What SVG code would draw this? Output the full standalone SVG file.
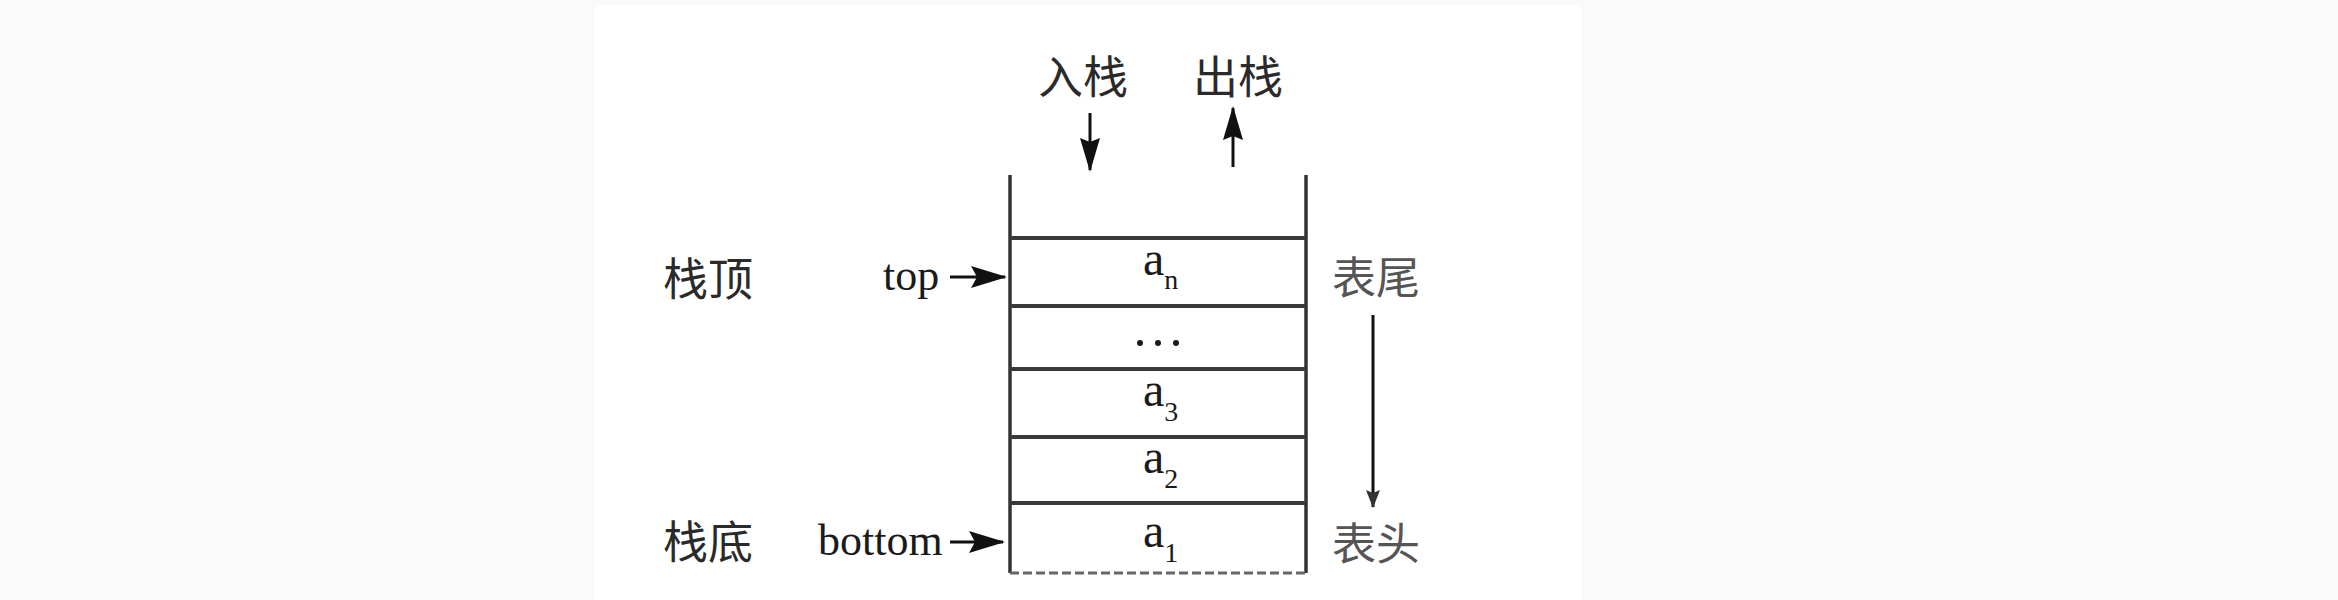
<svg xmlns="http://www.w3.org/2000/svg" width="2338" height="600" viewBox="0 0 2338 600">
  <style>
    .cjk { font-family: "Noto Sans CJK SC", "Noto Sans", sans-serif; font-size: 45px; fill: #2a2a2a; }
    .cjk2 { font-family: "Noto Sans CJK SC", "Noto Sans", sans-serif; font-size: 44px; fill: #555; }
    .lat { font-family: "Liberation Serif", "Times New Roman", serif; font-size: 44px; fill: #1a1a1a; }
    .el { font-family: "Liberation Serif", "Times New Roman", serif; font-size: 48px; fill: #1a1a1a; }
    .sub { font-size: 28px; }
    .wall { stroke: #333; stroke-width: 3.5; fill: none; }
    .sep { stroke: #3a3a3a; stroke-width: 4; fill: none; }
    .conn { stroke: #111; stroke-width: 3; fill: none; }
  </style>
  <defs>
    <marker id="ahBig" markerUnits="userSpaceOnUse" markerWidth="36" markerHeight="24" viewBox="0 0 36 24" refX="34" refY="12" orient="auto">
      <path d="M0,1 L36,12 L0,23 L6,12 z" fill="#111"/>
    </marker>
    <marker id="ahMid" markerUnits="userSpaceOnUse" markerWidth="34" markerHeight="22" viewBox="0 0 34 22" refX="32" refY="11" orient="auto">
      <path d="M0,1 L34,11 L0,21 L4,11 z" fill="#111"/>
    </marker>
    <marker id="ahSmall" markerUnits="userSpaceOnUse" markerWidth="18" markerHeight="16" viewBox="0 0 18 16" refX="17" refY="8" orient="auto">
      <path d="M0,1 L18,8 L0,15 L3,8 z" fill="#333"/>
    </marker>
  </defs>

  <rect x="0" y="0" width="2338" height="600" fill="#fafafa"/>
  <rect x="595" y="5" width="986" height="595" fill="#ffffff"/>

  <g id="stack">
    <line class="wall" x1="1010" y1="175" x2="1010" y2="573"/>
    <line class="wall" x1="1306" y1="175" x2="1306" y2="573"/>
    <line x1="1010" y1="573" x2="1306" y2="573" stroke="#666" stroke-width="3" stroke-dasharray="9,4"/>
  </g>

  <g id="cell-an">
    <line class="sep" x1="1010" y1="238" x2="1306" y2="238"/>
    <text class="el" x="1143" y="275">a<tspan class="sub" dy="14">n</tspan></text>
  </g>
  <g id="cell-dots">
    <line class="sep" x1="1010" y1="306" x2="1306" y2="306"/>
    <circle cx="1140" cy="343" r="3" fill="#1a1a1a"/>
    <circle cx="1158" cy="343" r="3" fill="#1a1a1a"/>
    <circle cx="1176" cy="343" r="3" fill="#1a1a1a"/>
  </g>
  <g id="cell-a3">
    <line class="sep" x1="1010" y1="369" x2="1306" y2="369"/>
    <text class="el" x="1143" y="406">a<tspan class="sub" dy="15">3</tspan></text>
  </g>
  <g id="cell-a2">
    <line class="sep" x1="1010" y1="437" x2="1306" y2="437"/>
    <text class="el" x="1143" y="473">a<tspan class="sub" dy="15">2</tspan></text>
  </g>
  <g id="cell-a1">
    <line class="sep" x1="1010" y1="503" x2="1306" y2="503"/>
    <text class="el" x="1143" y="547">a<tspan class="sub" dy="15">1</tspan></text>
  </g>

  <g id="label-push"><text class="cjk" x="1038" y="94">入栈</text></g>
  <g id="label-pop"><text class="cjk" x="1193" y="94">出栈</text></g>
  <g id="label-stacktop"><text class="cjk" x="663" y="296">栈顶</text></g>
  <g id="label-stackbottom"><text class="cjk" x="663" y="559">栈底</text></g>
  <g id="label-top"><text class="lat" x="883" y="290">top</text></g>
  <g id="label-bottom"><text class="lat" x="818" y="555">bottom</text></g>
  <g id="label-tail"><text class="cjk2" x="1332" y="294">表尾</text></g>
  <g id="label-head"><text class="cjk2" x="1332" y="560">表头</text></g>

  <g id="connectors">
    <line class="conn" x1="950" y1="277" x2="1005" y2="277" marker-end="url(#ahBig)"/>
    <line class="conn" x1="950" y1="542" x2="1003" y2="542" marker-end="url(#ahBig)"/>
    <line class="conn" x1="1090" y1="113" x2="1090" y2="170" stroke-width="2.5" marker-end="url(#ahMid)"/>
    <line class="conn" x1="1233" y1="167" x2="1233" y2="108" stroke-width="4" marker-end="url(#ahMid)"/>
    <line class="conn" x1="1373" y1="315" x2="1373" y2="507" stroke="#333" marker-end="url(#ahSmall)"/>
  </g>
</svg>
